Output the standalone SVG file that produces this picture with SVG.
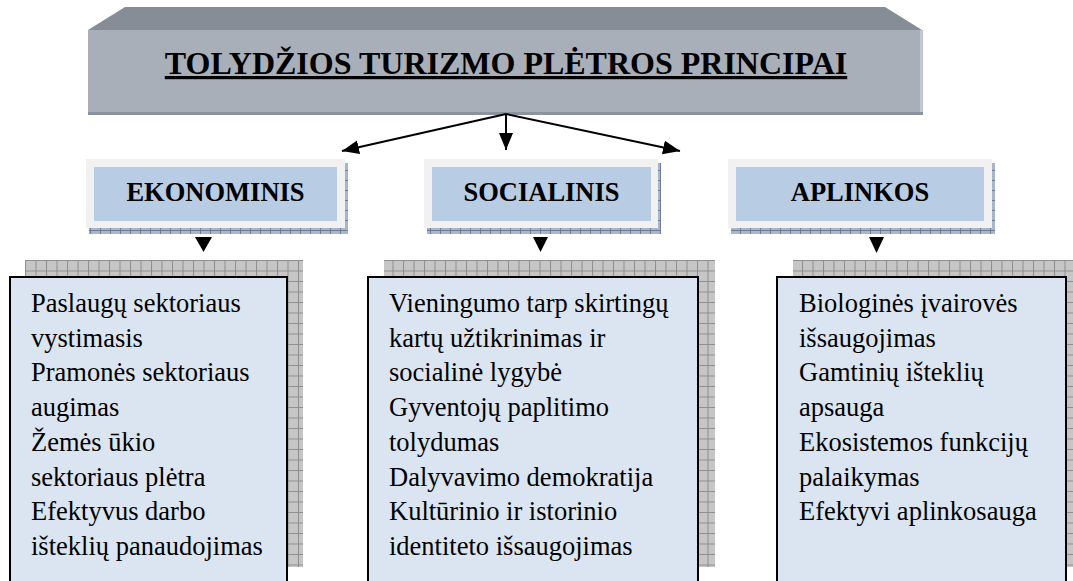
<svg xmlns="http://www.w3.org/2000/svg" width="1073" height="581" viewBox="0 0 1073 581">
  <style>
    .title { font-family: "Liberation Serif", "Times New Roman", Times, serif; font-weight: bold; font-size: 32px; fill: #000; text-decoration: underline; }
    .head { font-family: "Liberation Serif", "Times New Roman", Times, serif; font-weight: bold; font-size: 26.5px; fill: #000; }
    .body { font-family: "Liberation Serif", "Times New Roman", Times, serif; font-size: 26.5px; fill: #000; }
    .frame { fill: #f1f1f1; }
    .inner { fill: #b8cce4; }
    .sshadow { fill: url(#bluegrid); }
    .bshadow { fill: url(#graygrid); }
    .big { fill: #dbe5f1; stroke: #000; stroke-width: 2; }
    .conn { stroke: #000; stroke-width: 2; fill: none; }
    .tri { fill: #000; }
  </style>
  <defs>
    <pattern id="graygrid" patternUnits="userSpaceOnUse" x="25" y="260" width="10.5" height="10.5">
      <rect width="10.5" height="10.5" fill="#c6c6c6"/>
      <path d="M0,0.5 H10.5 M0.5,0 V10.5" stroke="#8e8e8e" stroke-width="1"/>
    </pattern>
    <pattern id="bluegrid" patternUnits="userSpaceOnUse" width="10" height="10">
      <rect width="10" height="10" fill="#a9b5c8"/>
      <path d="M0,0.5 H10 M0.5,0 V10" stroke="#6d7e9a" stroke-width="1"/>
    </pattern>
    <marker id="arr" markerUnits="userSpaceOnUse" markerWidth="18" markerHeight="15" refX="17" refY="7" orient="auto">
      <path d="M0,0 L17,7 L0,14 z" fill="#000"/>
    </marker>
  </defs>

  <g id="title-node">
    <polygon points="88,30 125,7 885,7 922,30" fill="#878d96"/>
    <rect x="88" y="30" width="835" height="85" fill="#a9afb9"/>
    <rect x="920" y="30" width="3" height="85" fill="#c3c8d0"/>
    <rect x="88" y="112" width="835" height="3" fill="#8d939c"/>
    <text class="title" x="506" y="74" text-anchor="middle">TOLYDŽIOS TURIZMO PLĖTROS PRINCIPAI</text>
  </g>

  <g id="connectors">
    <line class="conn" x1="506" y1="114" x2="342" y2="151" marker-end="url(#arr)"/>
    <line class="conn" x1="506" y1="114" x2="506" y2="150" marker-end="url(#arr)"/>
    <line class="conn" x1="506" y1="114" x2="680" y2="151" marker-end="url(#arr)"/>
    <polygon class="tri" points="195,237 212,237 203.5,252"/>
    <polygon class="tri" points="533,237 548,237 540.5,252"/>
    <polygon class="tri" points="869,237 884,237 876.5,253"/>
  </g>

  <g id="ekonominis">
    <rect class="sshadow" x="89" y="163" width="259" height="71"/>
    <rect class="frame" x="86" y="159" width="259" height="69"/>
    <rect class="inner" x="94" y="167" width="243" height="54"/>
    <text class="head" x="215.5" y="201" text-anchor="middle">EKONOMINIS</text>
  </g>

  <g id="socialinis">
    <rect class="sshadow" x="427" y="163" width="234" height="71"/>
    <rect class="frame" x="424" y="159" width="234" height="69"/>
    <rect class="inner" x="432" y="167" width="219" height="54"/>
    <text class="head" x="541.5" y="201" text-anchor="middle">SOCIALINIS</text>
  </g>

  <g id="aplinkos">
    <rect class="sshadow" x="731" y="163" width="264" height="71"/>
    <rect class="frame" x="728" y="159" width="264" height="69"/>
    <rect class="inner" x="736" y="167" width="248" height="54"/>
    <text class="head" x="860" y="201" text-anchor="middle">APLINKOS</text>
  </g>

  <g id="ekonominis-list">
    <rect class="bshadow" x="25" y="260" width="278" height="307"/>
    <rect class="big" x="10" y="277" width="277" height="320"/>
    <text class="body" x="31" y="312">
      <tspan x="31" y="312">Paslaugų sektoriaus</tspan>
      <tspan x="31" y="346.7">vystimasis</tspan>
      <tspan x="31" y="381.4">Pramonės sektoriaus</tspan>
      <tspan x="31" y="416.1">augimas</tspan>
      <tspan x="31" y="450.8">Žemės ūkio</tspan>
      <tspan x="31" y="485.5">sektoriaus plėtra</tspan>
      <tspan x="31" y="520.2">Efektyvus darbo</tspan>
      <tspan x="31" y="554.9">išteklių panaudojimas</tspan>
    </text>
  </g>

  <g id="socialinis-list">
    <rect class="bshadow" x="384" y="260" width="331" height="307"/>
    <rect class="big" x="368" y="277" width="330" height="320"/>
    <text class="body" x="389" y="312">
      <tspan x="389" y="312">Vieningumo tarp skirtingų</tspan>
      <tspan x="389" y="346.7">kartų užtikrinimas ir</tspan>
      <tspan x="389" y="381.4">socialinė lygybė</tspan>
      <tspan x="389" y="416.1">Gyventojų paplitimo</tspan>
      <tspan x="389" y="450.8">tolydumas</tspan>
      <tspan x="389" y="485.5">Dalyvavimo demokratija</tspan>
      <tspan x="389" y="520.2">Kultūrinio ir istorinio</tspan>
      <tspan x="389" y="554.9">identiteto išsaugojimas</tspan>
    </text>
  </g>

  <g id="aplinkos-list">
    <rect class="bshadow" x="793" y="260" width="290" height="307"/>
    <rect class="big" x="777" y="277" width="289" height="320"/>
    <text class="body" x="799" y="312">
      <tspan x="799" y="312">Biologinės įvairovės</tspan>
      <tspan x="799" y="346.7">išsaugojimas</tspan>
      <tspan x="799" y="381.4">Gamtinių išteklių</tspan>
      <tspan x="799" y="416.1">apsauga</tspan>
      <tspan x="799" y="450.8">Ekosistemos funkcijų</tspan>
      <tspan x="799" y="485.5">palaikymas</tspan>
      <tspan x="799" y="520.2">Efektyvi aplinkosauga</tspan>
    </text>
  </g>
</svg>
